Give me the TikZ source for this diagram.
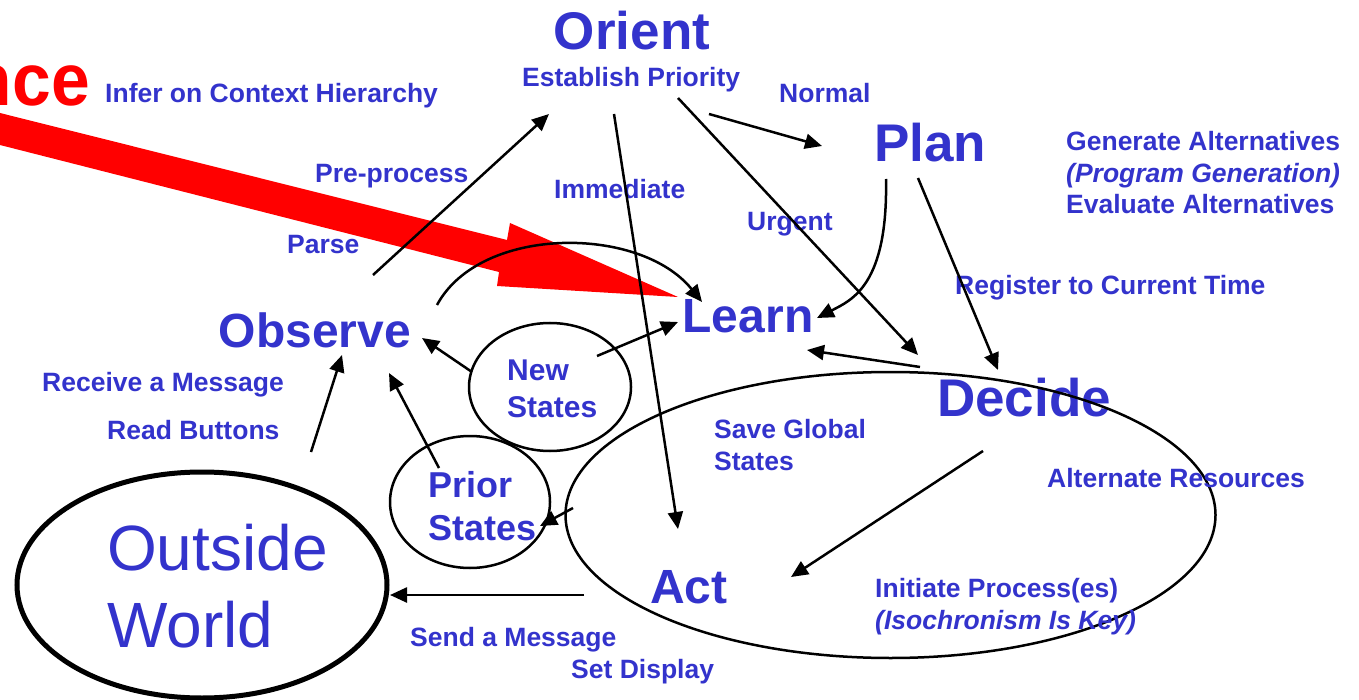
\documentclass[tikz,border=0pt]{standalone}
\usepackage{fontspec}
\setmainfont{Liberation Sans}
\usetikzlibrary{arrows.meta,shapes.geometric}
\definecolor{ooblue}{RGB}{51,51,204}

\begin{document}
\begin{tikzpicture}[x=1pt,y=-1pt,
    lbl/.style={font=\bfseries\fontsize{26.5}{31.5}\selectfont,text=ooblue,
        inner sep=0pt,anchor=base west,align=left},
    stage/.style={font=\bfseries\fontsize{53}{60}\selectfont,text=ooblue,
        inner sep=0pt,anchor=base},
    link/.style={line width=2.5pt,-{Triangle[length=17pt,width=15pt]}}]
    \tikzstyle{blob}=[ellipse,draw,line width=2.5pt,inner sep=0pt]

    \useasboundingbox (0,0) rectangle (1359,700);

    % big red arrow into Learn
    \fill[red] (0,113) -- (507,240) -- (510,223) -- (678,297) -- (497,286)
        -- (499,272) -- (0,145) -- cycle;
    \node[font=\bfseries\fontsize{74}{80}\selectfont,text=red,inner sep=0pt,
        anchor=base east] (redword) at (90,106) {\scalebox{0.94}[1]{nce}};

    % the five stages
    \node[stage] (orient) at (632,50) {Orient};
    \node[stage] (plan) at (930,162) {Plan};
    \node[stage] (decide) at (1024,416) {Decide};
    \node[stage,font=\bfseries\fontsize{48}{56}\selectfont] (learn) at (748,332) {Learn};
    \node[stage,font=\bfseries\fontsize{48}{56}\selectfont] (observe) at (315,348) {Observe};
    \node[stage,font=\bfseries\fontsize{48}{56}\selectfont] (act) at (689,603) {Act};

    % ellipses
    \node[blob,line width=5pt,minimum width=370pt,minimum height=226pt] (world) at (202,585) {};
    \node[blob,minimum width=162pt,minimum height=128pt] (newring) at (550,387) {};
    \node[blob,minimum width=160pt,minimum height=132pt] (priorring) at (470,502) {};
    \node[blob,minimum width=650pt,minimum height=286pt] (actring) at (890.5,515) {};

    % two-line texts sit on the baseline of their last line
    \node[lbl,font=\fontsize{64}{77}\selectfont] (worldtxt) at (107,647) {Outside\\World};
    \node[lbl,font=\bfseries\fontsize{30}{37}\selectfont] (newtxt) at (507,417) {New\\States};
    \node[lbl,font=\bfseries\fontsize{36}{43}\selectfont] (priortxt) at (428,540) {Prior\\States};

    % small labels
    \node[lbl] (infer) at (105,103) {Infer on Context Hierarchy};
    \node[lbl] (prio) at (522,87) {Establish Priority};
    \node[lbl] (normal) at (779,103) {Normal};
    \node[lbl] (gen) at (1066,214) {Generate Alternatives\\{\itshape(Program Generation)}\\Evaluate Alternatives};
    \node[lbl] (pre) at (315,183) {Pre-process};
    \node[lbl] (immed) at (554,199) {Immediate};
    \node[lbl] (urgent) at (747,231) {Urgent};
    \node[lbl] (parse) at (287,254) {Parse};
    \node[lbl] (register) at (955,295) {Register to Current Time};
    \node[lbl] (receive) at (42,391) {Receive a Message};
    \node[lbl] (buttons) at (107,439) {Read Buttons};
    \node[lbl] (save) at (714,470) {Save Global\\States};
    \node[lbl] (altres) at (1047,487) {Alternate Resources};
    \node[lbl] (initiate) at (875,629) {Initiate Process(es)\\{\itshape(Isochronism Is Key)}};
    \node[lbl] (send) at (410,646) {Send a Message};
    \node[lbl] (display) at (571,678) {Set Display};

    % arrow ends
    \coordinate (obs1) at (373,275);   \coordinate (oriIn) at (549,114);
    \coordinate (ori1) at (614,114);   \coordinate (actIn) at (678,529);
    \coordinate (ori2) at (709,114);   \coordinate (planIn) at (822,146);
    \coordinate (ori3) at (678,98);    \coordinate (decIn) at (918,355);
    \coordinate (plan1) at (886,179);  \coordinate (learnR) at (817,318);
    \coordinate (plan2) at (918,178);  \coordinate (decTop) at (998,370);
    \coordinate (dec1) at (920,367);   \coordinate (learnLow) at (807,350);
    \coordinate (obs2) at (437,305);   \coordinate (learnTop) at (702,302);
    \coordinate (new1) at (597,356);   \coordinate (learnL) at (678,322);
    \coordinate (new2) at (472,372);   \coordinate (obsR) at (422,338);
    \coordinate (prior1) at (439,468); \coordinate (obsLow) at (389,373);
    \coordinate (ring1) at (573,508);  \coordinate (priorR) at (540,526);
    \coordinate (dec2) at (983,451);   \coordinate (actR) at (791,577);
    \coordinate (act1) at (584,595);   \coordinate (worldR) at (390,595);
    \coordinate (world1) at (311,452); \coordinate (obsL) at (342,355);

    \draw[link] (obs1) -- (oriIn);
    \draw[link] (ori1) -- (actIn);
    \draw[link] (ori2) -- (planIn);
    \draw[link] (ori3) -- (decIn);
    \draw[link] (plan1) .. controls (888,285) and (852,300) .. (learnR);
    \draw[link] (plan2) -- (decTop);
    \draw[link] (dec1) -- (learnLow);
    \draw[link] (obs2) .. controls (480,225) and (640,225) .. (learnTop);
    \draw[link] (new1) -- (learnL);
    \draw[link] (new2) -- (obsR);
    \draw[link] (prior1) -- (obsLow);
    \draw[link] (ring1) -- (priorR);
    \draw[link] (dec2) -- (actR);
    \draw[link] (act1) -- (worldR);
    \draw[link] (world1) -- (obsL);

  \end{tikzpicture}
\end{document}
